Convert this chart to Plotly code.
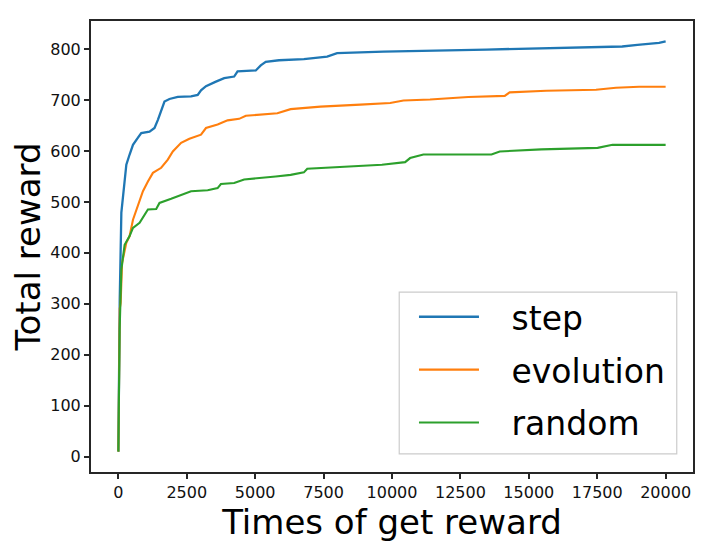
import plotly.graph_objects as go

# curves (times of get reward -> total reward)
step_x = [0, 50, 109, 229, 291, 411, 534, 716, 837, 1139, 1321, 1445, 1565, 1685, 1867,
          2172, 2656, 2900, 3020, 3202, 3566, 3868, 4232, 4356, 5022, 5204, 5386, 5870,
          6780, 7630, 7994, 9690, 13453, 14301, 14909, 16605, 18413, 18970, 19760, 20000]
step_y = [10, 308, 479, 538, 573, 593, 612, 626, 635, 638, 645, 661, 681, 697, 702,
          706, 707, 710, 719, 727, 736, 743, 746, 756, 758, 768, 775, 778,
          780, 785, 792, 795, 799, 800, 802, 804, 805, 808, 812, 815]

evo_x = [0, 50, 84, 135, 291, 411, 534, 716, 898, 1080, 1263, 1565, 1807, 1990, 2293,
         2596, 3020, 3202, 3627, 3991, 4414, 4658, 5811, 6295, 7387, 8843, 9934, 10419,
         11390, 12785, 14119, 14301, 15636, 17455, 18183, 19032, 20000]
evo_y = [10, 290, 302, 380, 420, 433, 465, 495, 521, 540, 557, 567, 583, 599, 616,
         624, 632, 645, 652, 660, 663, 669, 674, 682, 687, 691, 694, 699,
         701, 706, 708, 715, 718, 720, 724, 726, 726]

rand_x = [0, 47, 109, 229, 411, 534, 776, 958, 1080, 1383, 1503, 1929, 2354, 2656, 3264,
          3627, 3748, 4232, 4596, 5323, 5750, 6295, 6780, 6903, 8115, 8843, 9632, 10480,
          10662, 11147, 13635, 13937, 15454, 17515, 18060, 20000]
rand_y = [10, 250, 367, 416, 433, 449, 459, 475, 485, 486, 498, 506, 514, 521, 523,
          527, 535, 537, 544, 547, 550, 553, 558, 565, 568, 571, 573, 578,
          586, 593, 593, 599, 603, 606, 612, 612]

x_ticks = [0, 2500, 5000, 7500, 10000, 12500, 15000, 17500, 20000]
y_ticks = [0, 100, 200, 300, 400, 500, 600, 700, 800]

pad = '\u00a0\u00a0\u2009'  # gap between legend line and label, like matplotlib

fig = go.Figure()
fig.add_trace(go.Scatter(x=step_x, y=step_y, name=pad + 'step', mode='lines',
                         line=dict(color='#1f77b4', width=2.3), legendgroup='a'))
fig.add_trace(go.Scatter(x=evo_x, y=evo_y, name=pad + 'evolution', mode='lines',
                         line=dict(color='#ff7f0e', width=2.1), legendgroup='b'))
fig.add_trace(go.Scatter(x=rand_x, y=rand_y, name=pad + 'random', mode='lines',
                         line=dict(color='#2ca02c', width=2.1), legendgroup='c'))

axis_style = dict(showgrid=False, zeroline=False, showline=True, mirror=True,
                  linecolor='#262626', linewidth=2, ticks='outside', ticklen=5,
                  tickwidth=1.5, tickcolor='#262626',
                  tickfont=dict(family='DejaVu Sans', size=16, color='#111'))

fig.update_xaxes(range=[-1000, 21000], tickvals=x_ticks, tickformat='d',
                 title=dict(text='Times of get reward', standoff=6,
                            font=dict(family='DejaVu Sans', size=34, color='black')),
                 **axis_style)
fig.update_yaxes(range=[-30, 855], tickvals=y_ticks,
                 title=dict(text='Total reward', standoff=0,
                            font=dict(family='DejaVu Sans', size=34, color='black')),
                 **axis_style)

# legend frame drawn as a shape so it can have matplotlib-like padding
fig.add_shape(type='rect', xref='paper', yref='paper',
              x0=0.512, x1=0.973, y0=0.040, y1=0.399,
              line=dict(color='#cccccc', width=1.2), fillcolor='white', layer='above')

# page body adds an 8px offset, so the figure is drawn 8px smaller than the window
fig.update_layout(width=709, height=547, plot_bgcolor='white', paper_bgcolor='white',
                  margin=dict(l=83, r=24, t=13, b=83),
                  legend=dict(x=0.5365, y=0.047, xanchor='left', yanchor='bottom',
                              borderwidth=0, bgcolor='rgba(0,0,0,0)',
                              tracegroupgap=7, itemwidth=60,
                              font=dict(family='DejaVu Sans', size=33, color='black')))

fig.write_html('out.html')
